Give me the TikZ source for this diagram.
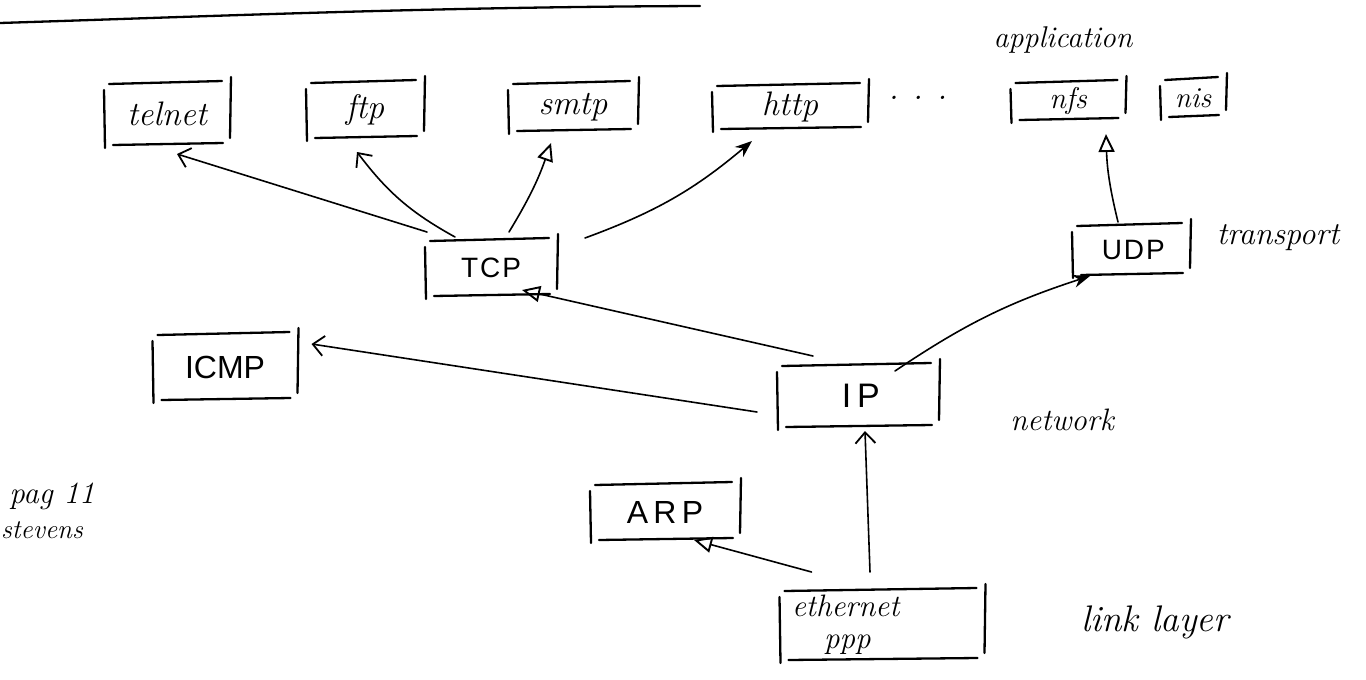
\documentclass[tikz,border=0pt]{standalone}
\usepackage{fontspec}
\newfontfamily\capsfont{Liberation Sans}
\usetikzlibrary{arrows.meta,calc}

\tikzset{
  layer/.style 2 args={minimum width=#1pt, minimum height=#2pt, inner sep=0pt, outer sep=0pt},
  lc/.style={font=\fontsize{34}{36}\selectfont\itshape},
  uc/.style={font=\fontsize{28}{30}\selectfont\capsfont},
  boxline/.style={line width=2.3pt, line cap=round},
  link/.style={line width=1.6pt, line cap=round},
  barb/.style={-{Straight Barb[length=11pt,width=20pt,line width=1.8pt]}},
  opentri/.style={-{Triangle[open,length=18pt,width=16pt,line width=1.9pt]}},
  solid tip/.style={-{Stealth[length=17pt,width=13pt]}},
}

% four loose strokes round a node, like a box drawn by hand
\newcommand\handbox[1]{%
  \draw[boxline] ($(#1.north west)+(5,1)$) -- ($(#1.north east)+(-8,-2)$);
  \draw[boxline] ($(#1.north east)+(1,-6)$) -- ($(#1.south east)+(0,-7)$);
  \draw[boxline] ($(#1.north west)+(0,7)$) -- ($(#1.south west)+(1,3)$);
  \draw[boxline] ($(#1.south west)+(9,0)$) -- ($(#1.south east)+(-7,-2)$);
}

\begin{document}
\begin{tikzpicture}[x=1pt,y=-1pt]
\useasboundingbox (0,0) rectangle (1366,680);

% rule across the top of the page
\draw[boxline] (0,23) .. controls (220,16) and (430,7) .. (700,6);

% application layer
\node[layer={126}{62}, lc] (telnet) at (167,114) {telnet};
\node[layer={118}{56}, lc] (ftp)    at (365,110) {ftp};
\node[layer={130}{48}, lc] (smtp)   at (573,107) {smtp};
\node[layer={156}{44}, lc] (http)   at (790,107) {http};
\node[lc] (more) at (918,98) {.\hspace{14pt}.\hspace{14pt}.};
\node[layer={115}{38}, lc, font=\fontsize{30}{30}\selectfont\itshape] (nfs) at (1068,101) {nfs};
\node[layer={66}{38}, lc, font=\fontsize{29}{30}\selectfont\itshape] (nis) at (1193,98) {nis};
\node[lc, font=\fontsize{30}{32}\selectfont\itshape] (application) at (1063,40) {application};

% transport layer
\node[layer={132}{56}, uc] (tcp) at (491,268) {T\kern2pt C\kern2pt P};
\node[layer={118}{50}, uc] (udp) at (1131,250) {\,U\kern2pt D\kern2pt P};
\node[lc, font=\fontsize{32}{34}\selectfont\itshape] (transport) at (1278,238) {transport};

% network layer
\node[layer={145}{66}, uc, font=\fontsize{32}{32}\selectfont\capsfont] (icmp) at (225,367) {ICMP};
\node[layer={162}{62}, uc, font=\fontsize{34}{34}\selectfont\capsfont] (ip) at (858,396) {\,I\,P};
\node[lc, font=\fontsize{31}{32}\selectfont\itshape] (network) at (1062,420) {network};

% link layer
\node[layer={150}{56}, uc, font=\fontsize{32}{32}\selectfont\capsfont] (arp) at (665,512) {A\,R\,P};
\node[layer={205}{70}, lc, align=left, text width=180pt, inner xsep=12pt, font=\fontsize{31}{32}\selectfont\itshape] (eth) at (882,625) {ethernet\\\hspace*{32pt}ppp};
\node[lc, font=\fontsize{37}{38}\selectfont\itshape] (linklayer) at (1155,622) {link layer};

% source note
\node[lc, font=\fontsize{31}{32}\selectfont\itshape] (pag) at (52,496) {pag 11};
\node[lc, font=\fontsize{27}{28}\selectfont\itshape] (stevens) at (42,530) {stevens};

\foreach \b in {telnet,ftp,smtp,http,nfs,nis,tcp,udp,icmp,ip,arp,eth} {\handbox{\b}}

% TCP up to its applications
\draw[link, barb] ($(tcp.north west)+(2,-8)$) -- ($(telnet.south)+(10,9)$);
\draw[link, barb] ($(tcp.north west)+(30,-3)$) to[bend left=12] ($(ftp.south)+(-8,14)$);
\draw[link, opentri] ($(tcp.north)+(18,-8)$) to[bend right=6] ($(smtp.south)+(-22,12)$);
\draw[link, solid tip] ($(tcp.north east)+(28,-2)$) to[bend right=10] ($(http.south)+(-38,12)$);

% UDP up to nfs
\draw[link, opentri] ($(udp.north)+(-13,-3)$) to[bend left=6] ($(nfs.south)+(38,14)$);

% IP up to the transport and ICMP
\draw[link, opentri] ($(ip.north west)+(36,-9)$) -- ($(tcp.south east)+(-35,-6)$);
\draw[link, barb] ($(ip.west)+(-20,16)$) -- ($(icmp.north east)+(14,10)$);
\draw[link, solid tip] ($(ip.north)+(37,6)$) to[bend left=8] ($(udp.south west)+(18,1)$);

% link layer up to IP and ARP
\draw[link, barb] ($(eth.north)+(-12,-18)$) -- ($(ip.south)+(7,4)$);
\draw[link, opentri] ($(eth.north west)+(32,-18)$) -- ($(arp.south east)+(-46,0)$);
\end{tikzpicture}
\end{document}
